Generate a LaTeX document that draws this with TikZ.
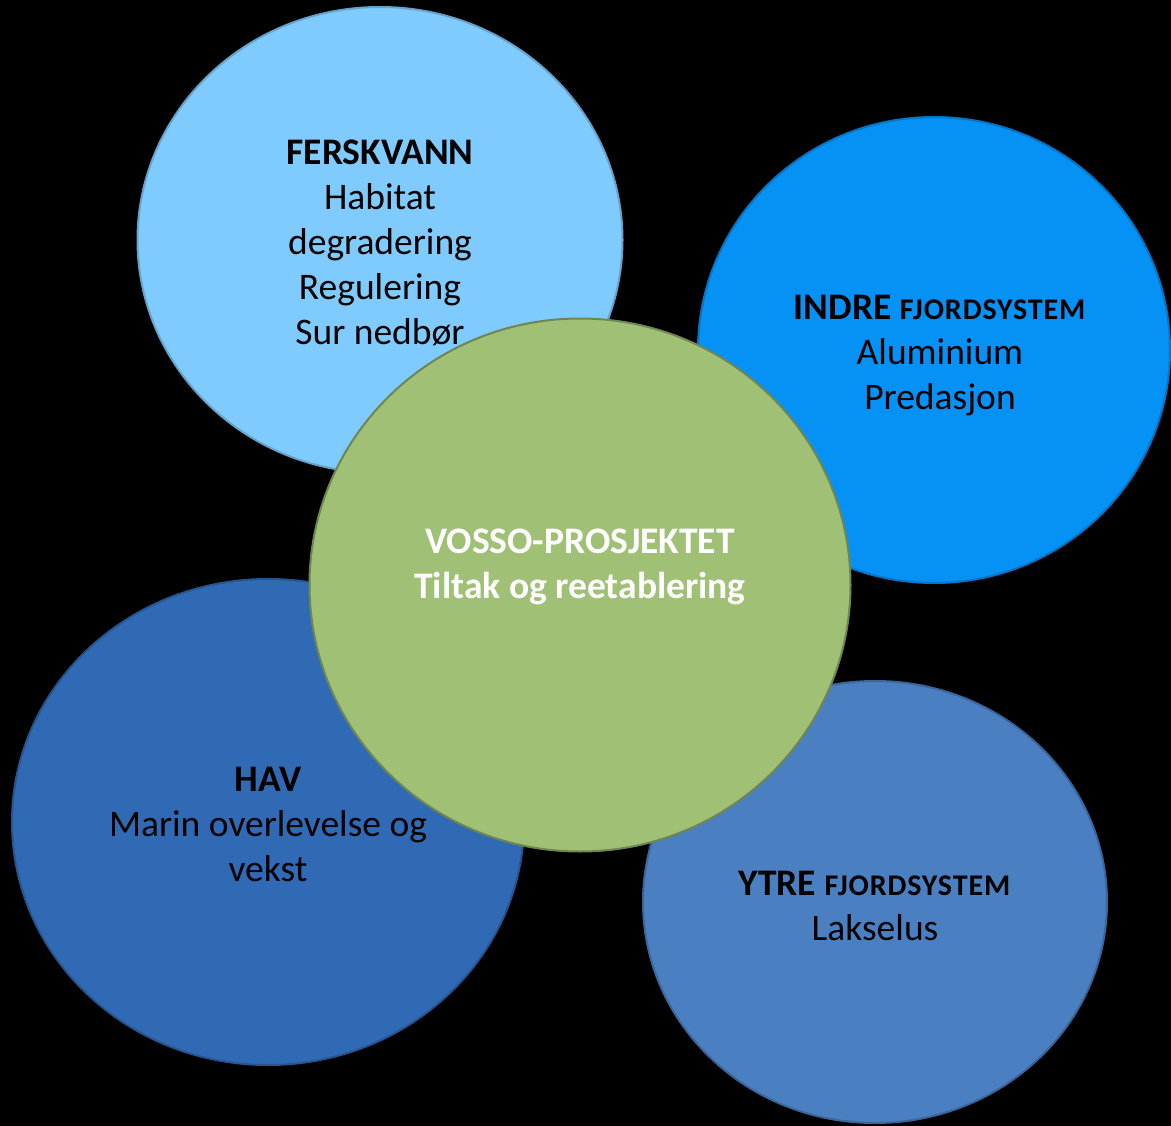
\documentclass[tikz,border=0pt]{standalone}
\usepackage{fontspec}
\setmainfont{Carlito}
\newfontfamily\scfont{Carlito}[LetterSpace=3]
\usetikzlibrary{shapes.geometric}
\definecolor{cFersk}{RGB}{128,203,253}
\definecolor{cIndre}{RGB}{6,145,245}
\definecolor{cGreen}{RGB}{159,192,117}
\definecolor{cHav}{RGB}{48,106,180}
\definecolor{cYtre}{RGB}{74,128,194}
\tikzset{
  bubble/.style={ellipse, inner sep=0pt, outer sep=0pt, line width=2pt},
  lbl/.style={align=center, font=\fontsize{37.5}{45}\selectfont, inner sep=0pt, text=black}
}
\newcommand{\smallcaps}[1]{{\scfont\bfseries\fontsize{30}{45}\selectfont #1}}
\begin{document}
\begin{tikzpicture}[x=1pt,y=-1pt]
\fill[black] (0,0) rectangle (1171,1126);
\useasboundingbox (0,0) rectangle (1171,1126);
% outer bubbles
\node[bubble, fill=cFersk, draw=cFersk!80!black, minimum width=485pt, minimum height=466pt] (fersk) at (380,240) {};
\node[bubble, fill=cIndre, draw=cIndre!80!black, minimum width=472pt, minimum height=466pt] (indre) at (934,350) {};
\node[bubble, fill=cHav, draw=cHav!80!black, minimum width=512pt, minimum height=486pt] (hav) at (268,822) {};
\node[bubble, fill=cYtre, draw=cYtre!80!black, minimum width=464pt, minimum height=442pt] (ytre) at (875,902) {};
% centre bubble
\node[bubble, fill=cGreen, draw=cGreen!70!black, minimum width=541pt, minimum height=533pt] (vosso) at (580,585) {};
% labels
\node[lbl] (tfersk) at (380,243) {\textbf{FERSKVANN}\\Habitat\\degradering\\Regulering\\Sur nedbør};
\node[lbl] (tindre) at (940,356) {\textbf{INDRE \smallcaps{FJORDSYSTEM}}\\Aluminium\\Predasjon};
\node[lbl, text=white, font=\fontsize{37.5}{45}\selectfont\bfseries] (tvosso) at (580,567) {VOSSO-PROSJEKTET\\Tiltak og reetablering};
\node[lbl] (thav) at (268,824) {\textbf{HAV}\\Marin overlevelse og\\vekst};
\node[lbl] (tytre) at (875,906) {\textbf{YTRE \smallcaps{FJORDSYSTEM}}\\Lakselus};
\end{tikzpicture}
\end{document}
